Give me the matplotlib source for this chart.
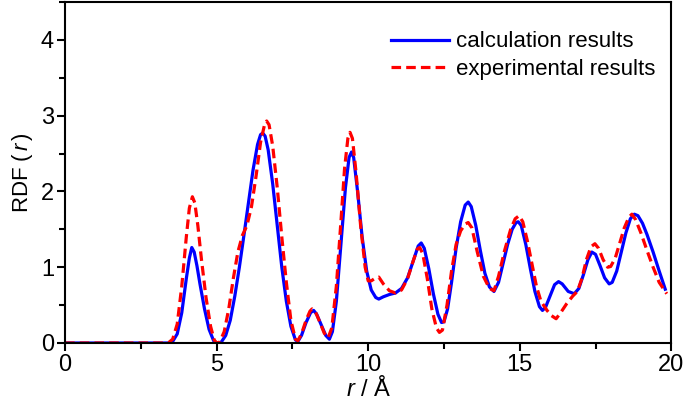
import matplotlib
matplotlib.use("Agg")
import matplotlib.pyplot as plt
from matplotlib.ticker import MultipleLocator

plt.rcParams["font.family"] = ["Liberation Sans", "DejaVu Sans"]
plt.rcParams["mathtext.fontset"] = "custom"
plt.rcParams["mathtext.rm"] = "Liberation Sans"
plt.rcParams["mathtext.it"] = "Liberation Sans:italic"

# calculation results (r in Angstrom, RDF)
r_calc = [0, 3.4, 3.55, 3.7, 3.85, 4.0, 4.1, 4.18, 4.26, 4.35, 4.45, 4.6, 4.75,
          4.9, 5.0, 5.15, 5.3, 5.45, 5.6, 5.75, 5.9, 6.05, 6.2, 6.35, 6.45, 6.52,
          6.6, 6.7, 6.85, 7.0, 7.15, 7.3, 7.45, 7.6, 7.68, 7.8, 7.95, 8.1, 8.2,
          8.3, 8.45, 8.6, 8.72, 8.82, 8.95, 9.1, 9.25, 9.37, 9.45, 9.52, 9.65,
          9.8, 9.95, 10.1, 10.25, 10.35, 10.5, 10.7, 10.9, 11.1, 11.3, 11.5,
          11.65, 11.75, 11.85, 12.0, 12.15, 12.3, 12.42, 12.5, 12.62, 12.75,
          12.9, 13.05, 13.2, 13.3, 13.4, 13.55, 13.7, 13.85, 14.0, 14.15, 14.3,
          14.45, 14.6, 14.75, 14.88, 14.95, 15.05, 15.2, 15.35, 15.5, 15.65,
          15.75, 15.85, 16.0, 16.15, 16.28, 16.4, 16.6, 16.8, 16.95, 17.1, 17.25,
          17.38, 17.5, 17.65, 17.8, 17.95, 18.05, 18.2, 18.35, 18.5, 18.65,
          18.78, 18.9, 19.05, 19.2, 19.4, 19.6, 19.8]
g_calc = [0, 0, 0.02, 0.12, 0.4, 0.85, 1.12, 1.26, 1.2, 1.02, 0.78, 0.45, 0.18,
          0.03, 0.0, 0.01, 0.1, 0.3, 0.62, 1.0, 1.42, 1.85, 2.28, 2.62, 2.75,
          2.77, 2.73, 2.55, 2.1, 1.55, 1.0, 0.55, 0.22, 0.04, 0.02, 0.1, 0.27,
          0.4, 0.43, 0.38, 0.24, 0.1, 0.05, 0.15, 0.55, 1.3, 2.05, 2.45, 2.52,
          2.45, 2.0, 1.4, 0.95, 0.7, 0.6, 0.58, 0.61, 0.64, 0.66, 0.72, 0.86,
          1.1, 1.28, 1.32, 1.25, 0.98, 0.65, 0.38, 0.27, 0.28, 0.45, 0.8, 1.25,
          1.6, 1.82, 1.86, 1.8, 1.55, 1.22, 0.92, 0.74, 0.68, 0.8, 1.05, 1.3,
          1.5, 1.59, 1.6, 1.55, 1.3, 0.98, 0.68, 0.48, 0.43, 0.47, 0.62, 0.77,
          0.81, 0.78, 0.68, 0.65, 0.72, 0.9, 1.1, 1.2, 1.17, 1.02, 0.86, 0.78,
          0.8, 0.95, 1.2, 1.45, 1.64, 1.7, 1.68, 1.58, 1.43, 1.2, 0.95, 0.71]

# experimental results
r_exp = [0, 3.4, 3.55, 3.7, 3.85, 4.0, 4.1, 4.2, 4.28, 4.38, 4.5, 4.65, 4.8,
         4.92, 5.0, 5.1, 5.25, 5.4, 5.55, 5.7, 5.85, 6.0, 6.15, 6.3, 6.45, 6.58,
         6.65, 6.73, 6.85, 7.0, 7.15, 7.3, 7.45, 7.6, 7.68, 7.8, 7.95, 8.08,
         8.15, 8.25, 8.4, 8.55, 8.68, 8.8, 8.95, 9.1, 9.22, 9.33, 9.4, 9.48,
         9.6, 9.75, 9.9, 10.0, 10.1, 10.25, 10.35, 10.5, 10.7, 10.9, 11.1, 11.3,
         11.5, 11.62, 11.7, 11.8, 11.95, 12.1, 12.25, 12.35, 12.45, 12.6, 12.75,
         12.9, 13.05, 13.2, 13.3, 13.42, 13.6, 13.8, 14.0, 14.15, 14.3, 14.5,
         14.7, 14.85, 14.98, 15.1, 15.25, 15.4, 15.55, 15.7, 15.9, 16.05, 16.2,
         16.35, 16.55, 16.75, 16.9, 17.05, 17.2, 17.35, 17.48, 17.6, 17.75, 17.9,
         18.0, 18.15, 18.3, 18.45, 18.6, 18.7, 18.82, 19.0, 19.2, 19.4, 19.6,
         19.85]
g_exp = [0, 0, 0.05, 0.25, 0.75, 1.4, 1.78, 1.93, 1.85, 1.55, 1.1, 0.6, 0.22,
         0.04, 0.0, 0.01, 0.15, 0.45, 0.85, 1.2, 1.42, 1.55, 1.8, 2.2, 2.65,
         2.88, 2.93, 2.88, 2.6, 2.05, 1.4, 0.8, 0.3, 0.05, 0.03, 0.12, 0.3, 0.42,
         0.45, 0.42, 0.28, 0.13, 0.07, 0.2, 0.75, 1.6, 2.3, 2.7, 2.78, 2.7,
         2.25, 1.55, 1.0, 0.82, 0.82, 0.86, 0.87, 0.78, 0.69, 0.66, 0.7, 0.85,
         1.1, 1.24, 1.26, 1.18, 0.85, 0.45, 0.2, 0.14, 0.17, 0.5, 0.95, 1.3,
         1.48, 1.57, 1.59, 1.52, 1.2, 0.88, 0.72, 0.69, 0.88, 1.22, 1.5, 1.64,
         1.68, 1.6, 1.35, 1.05, 0.75, 0.55, 0.43, 0.36, 0.32, 0.4, 0.52, 0.62,
         0.68, 0.85, 1.1, 1.27, 1.31, 1.25, 1.1, 1.0, 1.01, 1.12, 1.32, 1.52,
         1.66, 1.7, 1.63, 1.45, 1.22, 1.0, 0.8, 0.65]

fig = plt.figure(figsize=(6.85, 4.04), dpi=100)
ax = fig.add_axes([0.095, 0.151, 0.885, 0.844])

ax.plot(r_calc, g_calc, color="#0000ff", lw=2.3, label="calculation results")
ax.plot(r_exp, g_exp, color="#ff0000", lw=2.3, ls=(0, (3, 1.6)),
        label="experimental results")

ax.set_xlim(0, 20)
ax.set_ylim(0, 4.5)
ax.xaxis.set_major_locator(MultipleLocator(5))
ax.xaxis.set_minor_locator(MultipleLocator(2.5))
ax.yaxis.set_major_locator(MultipleLocator(1))
ax.yaxis.set_minor_locator(MultipleLocator(0.5))
ax.tick_params(which="both", direction="out", width=1.5, labelsize=17, pad=2)
ax.tick_params(which="major", length=6)
ax.tick_params(which="minor", length=4)
for sp in ax.spines.values():
    sp.set_linewidth(1.5)

ax.set_xlabel("$r$ / Å", fontsize=17, labelpad=0)
ax.set_ylabel(r"RDF ($\,r\,$)", fontsize=16, labelpad=4)

ax.legend(loc="upper right", frameon=False, fontsize=16, handlelength=2.6,
          handletextpad=0.3, labelspacing=0.3, borderaxespad=0,
          bbox_to_anchor=(0.988, 0.94))

fig.savefig("out.png", dpi=100)
